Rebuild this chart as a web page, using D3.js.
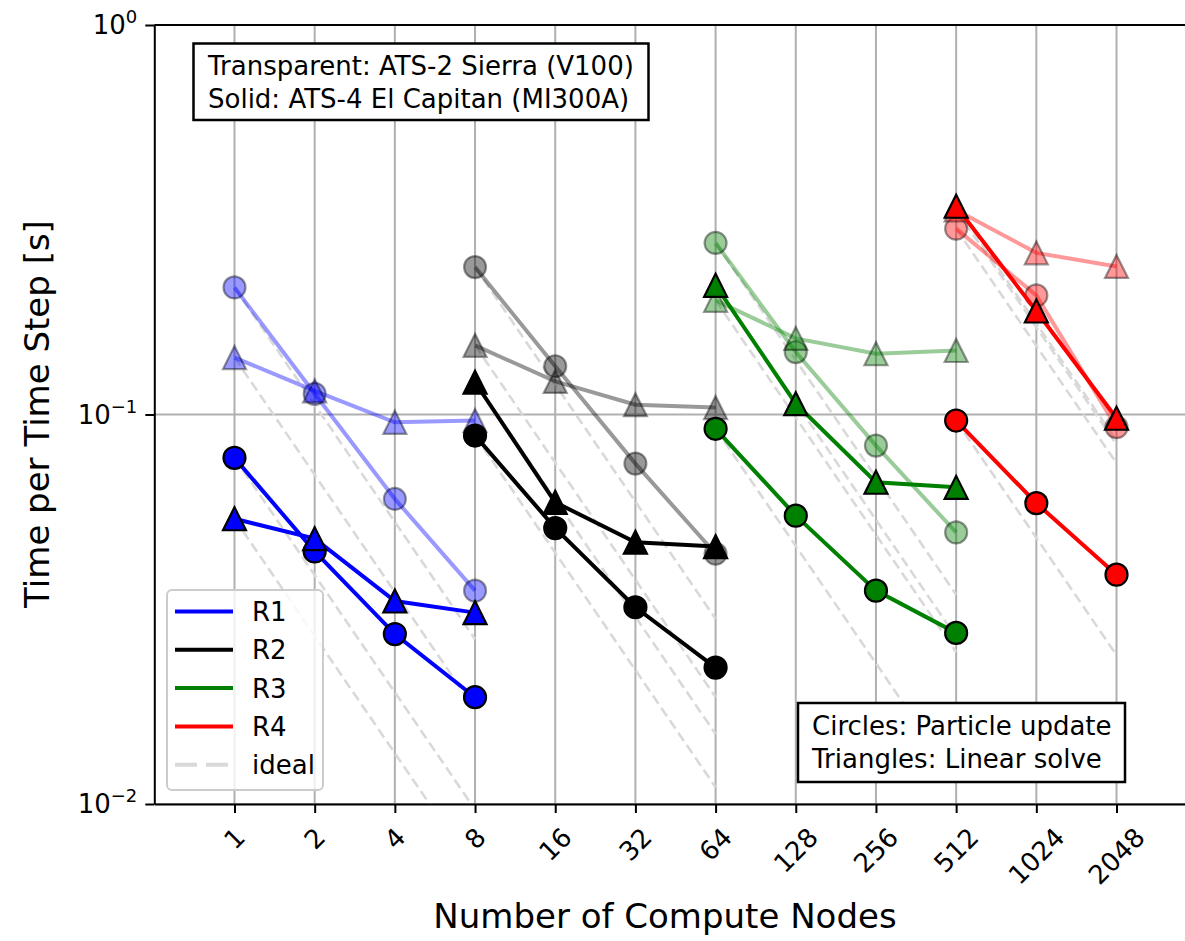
<!DOCTYPE html>
<html>
<head>
<meta charset="utf-8">
<script src="https://cdn.jsdelivr.net/npm/d3@7"></script>
<style>
  body { margin: 0; background: #fff; }
  svg { display: block; font-family: "DejaVu Sans", sans-serif; }
</style>
</head>
<body>
<div id="chart-area"></div>
<script>
// tick values
var nodeTicks = [1, 2, 4, 8, 16, 32, 64, 128, 256, 512, 1024, 2048];
var yTicks = [0.01, 0.1, 1];
var yTickExp = ["\u22122", "\u22121", "0"];

// node counts per problem size
var r1Nodes = [1, 2, 4, 8];
var r2Nodes = [8, 16, 32, 64];
var r3Nodes = [64, 128, 256, 512];
var r4Nodes = [512, 1024, 2048];

// ATS-2 Sierra (transparent)
var r1SierraParticle = [0.212, 0.113, 0.0607, 0.0353];
var r1SierraSolve    = [0.140, 0.115, 0.0955, 0.0965];
var r2SierraParticle = [0.239, 0.133, 0.0748, 0.0439];
var r2SierraSolve    = [0.1505, 0.1216, 0.106, 0.1042];
var r3SierraParticle = [0.2757, 0.1446, 0.0832, 0.0498];
var r3SierraSolve    = [0.1964, 0.1568, 0.1432, 0.146];
var r4SierraParticle = [0.300, 0.2022, 0.0928];
var r4SierraSolve    = [0.335, 0.26, 0.24];

// ATS-4 El Capitan (solid)
var r1ElCapParticle = [0.0774, 0.0445, 0.0273, 0.0188];
var r1ElCapSolve    = [0.054, 0.048, 0.0332, 0.031];
var r2ElCapParticle = [0.0883, 0.0511, 0.032, 0.0224];
var r2ElCapSolve    = [0.121, 0.0595, 0.047, 0.0458];
var r3ElCapParticle = [0.0919, 0.055, 0.0353, 0.0275];
var r3ElCapSolve    = [0.2146, 0.1066, 0.067, 0.065];
var r4ElCapParticle = [0.0965, 0.0592, 0.0388];
var r4ElCapSolve    = [0.3425, 0.1844, 0.0978];

var regionNames = ["R1", "R2", "R3", "R4"];
var regionColors = ["#0000ff", "#000000", "#008000", "#ff0000"];
var regionNodes = [r1Nodes, r2Nodes, r3Nodes, r4Nodes];
var sierra = [
  [r1SierraParticle, r1SierraSolve], [r2SierraParticle, r2SierraSolve],
  [r3SierraParticle, r3SierraSolve], [r4SierraParticle, r4SierraSolve]];
var elCap = [
  [r1ElCapParticle, r1ElCapSolve], [r2ElCapParticle, r2ElCapSolve],
  [r3ElCapParticle, r3ElCapSolve], [r4ElCapParticle, r4ElCapSolve]];

// build series list: transparent first, solid on top
var series = [];
[sierra, elCap].forEach(function(machine, m) {
  machine.forEach(function(pair, i) {
    pair.forEach(function(vals, k) {
      series.push({
        region: i,
        alpha: m == 0 ? 0.4 : 1,
        shape: k == 0 ? "circle" : "triangle",
        points: regionNodes[i].map(function(n, j) { return { n: n, t: vals[j] }; })
      });
    });
  });
});

var width = 1185, height = 941;
var top0 = 25, bottom0 = 804, left0 = 154.3, right0 = 1196.7;

var svg = d3.select("#chart-area").append("svg")
  .attr("width", width)
  .attr("height", height);

var x = d3.scaleLog().base(2)
  .domain([0.5, 4096])
  .range([left0, right0]);

var y = d3.scaleLog()
  .domain([0.01, 1])
  .range([bottom0, top0]);

svg.append("clipPath").attr("id", "plot-clip")
  .append("rect")
    .attr("x", left0).attr("y", top0)
    .attr("width", right0 - left0).attr("height", bottom0 - top0);

// grid
var grid = svg.append("g");
grid.selectAll(".vgrid").data(nodeTicks).enter().append("line")
  .attr("x1", function(d) { return x(d); })
  .attr("x2", function(d) { return x(d); })
  .attr("y1", top0).attr("y2", bottom0)
  .attr("stroke", "#b0b0b0").attr("stroke-width", 2);
grid.selectAll(".hgrid").data(yTicks).enter().append("line")
  .attr("x1", left0).attr("x2", right0)
  .attr("y1", function(d) { return y(d); })
  .attr("y2", function(d) { return y(d); })
  .attr("stroke", "#b0b0b0").attr("stroke-width", 2);

var plot = svg.append("g").attr("clip-path", "url(#plot-clip)");

// ideal scaling lines (t ~ 1/N from first point)
var line = d3.line()
  .x(function(d) { return x(d.n); })
  .y(function(d) { return y(d.t); });

series.forEach(function(s) {
  var p0 = s.points[0], pN = s.points[s.points.length - 1];
  plot.append("path")
    .attr("d", line([p0, { n: pN.n, t: p0.t * p0.n / pN.n }]))
    .attr("fill", "none")
    .attr("stroke", "#d9d9d9")
    .attr("stroke-width", 2.6)
    .attr("stroke-dasharray", "10,5");
});

var triangle = "M0,-11.5L11.5,11.5L-11.5,11.5Z";

series.forEach(function(s) {
  var c = regionColors[s.region];
  var g = plot.append("g");
  g.append("path")
    .attr("d", line(s.points))
    .attr("fill", "none")
    .attr("stroke", c)
    .attr("stroke-opacity", s.alpha)
    .attr("stroke-width", 4);
  var marks;
  if (s.shape == "circle") {
    marks = g.selectAll("circle").data(s.points).enter().append("circle")
      .attr("cx", function(d) { return x(d.n); })
      .attr("cy", function(d) { return y(d.t); })
      .attr("r", 11);
  } else {
    marks = g.selectAll(".tri").data(s.points).enter().append("path")
      .attr("d", triangle)
      .attr("transform", function(d) { return "translate(" + x(d.n) + "," + y(d.t) + ")"; });
  }
  marks.attr("fill", c)
    .attr("fill-opacity", s.alpha)
    .attr("stroke", "#000")
    .attr("stroke-opacity", s.alpha)
    .attr("stroke-width", 2.2);
});

// axes
function minorTicks(lo, hi) {
  var out = [];
  for (var k = -3; k <= 4; k++) {
    for (var m = 2; m <= 9; m++) {
      var v = m * Math.pow(10, k);
      if (v > lo && v < hi) out.push(v);
    }
  }
  return out;
}

var xAxisGroup = svg.append("g").attr("transform", "translate(0," + bottom0 + ")");
xAxisGroup.call(d3.axisBottom(x).tickValues(minorTicks(0.5, 4096)).tickSize(5.5).tickSizeOuter(0).tickFormat(""));
xAxisGroup.call(d3.axisBottom(x).tickValues(nodeTicks).tickSize(9).tickSizeOuter(0).tickFormat(""));

var yAxisGroup = svg.append("g").attr("transform", "translate(" + left0 + ",0)");
yAxisGroup.call(d3.axisLeft(y).tickValues(minorTicks(0.01, 1)).tickSize(5.5).tickSizeOuter(0).tickFormat(""));
yAxisGroup.call(d3.axisLeft(y).tickValues(yTicks).tickSize(9).tickSizeOuter(0).tickFormat(""));

svg.selectAll(".domain").attr("stroke", "#000").attr("stroke-width", 2);
svg.selectAll(".tick line").attr("stroke", "#000").attr("stroke-width", 2);

svg.append("line")
  .attr("x1", left0).attr("x2", right0)
  .attr("y1", top0).attr("y2", top0)
  .attr("stroke", "#000").attr("stroke-width", 2);

// x tick labels, rotated 45 degrees
nodeTicks.forEach(function(n) {
  var t = svg.append("text")
    .attr("font-size", 26)
    .attr("text-anchor", "middle")
    .attr("dy", "0.35em")
    .text(n);
  var L = t.node().getComputedTextLength();
  var H = (L + 26 * 1.164) / Math.SQRT2;
  var cy = bottom0 + 9 + 9 + H / 2;
  t.attr("transform", "translate(" + x(n) + "," + cy + ") rotate(-45)");
});

// y tick labels with exponents
yTicks.forEach(function(v, i) {
  var t = svg.append("text")
    .attr("x", left0 - 9 - 8)
    .attr("y", y(v) + 9)
    .attr("text-anchor", "end")
    .attr("font-size", 26);
  t.append("tspan").text("10");
  t.append("tspan").attr("dy", -11).attr("font-size", 18).text(yTickExp[i]);
});

// axis labels
svg.append("text")
  .attr("x", 665)
  .attr("y", 928)
  .attr("text-anchor", "middle")
  .attr("font-size", 34)
  .text("Number of Compute Nodes");

svg.append("text")
  .attr("transform", "translate(49," + 414 + ") rotate(-90)")
  .attr("text-anchor", "middle")
  .attr("font-size", 34)
  .text("Time per Time Step [s]");

// annotation boxes
function textBox(x0, y0, w, h, lines, tx, ty) {
  svg.append("rect")
    .attr("x", x0).attr("y", y0).attr("width", w).attr("height", h)
    .attr("fill", "#fff").attr("stroke", "#000").attr("stroke-width", 2.5);
  lines.forEach(function(s, i) {
    svg.append("text")
      .attr("x", tx).attr("y", ty + i * 33)
      .attr("font-size", 26)
      .text(s);
  });
}
textBox(193.5, 43.5, 455, 76.5,
  ["Transparent: ATS-2 Sierra (V100)", "Solid: ATS-4 El Capitan (MI300A)"], 208, 75);
textBox(798, 703, 327, 79,
  ["Circles: Particle update", "Triangles: Linear solve"], 812, 735);

// legend
var legend = svg.append("g");
legend.append("rect")
  .attr("x", 167).attr("y", 590).attr("width", 156).attr("height", 200)
  .attr("rx", 5)
  .attr("fill", "#fff").attr("fill-opacity", 0.8)
  .attr("stroke", "#cccccc").attr("stroke-width", 2);

var legendItems = regionNames.concat(["ideal"]);
legendItems.forEach(function(name, i) {
  var ly = 611.5 + i * 38.3;
  var isIdeal = i == regionNames.length;
  legend.append("line")
    .attr("x1", 175).attr("x2", 233)
    .attr("y1", ly).attr("y2", ly)
    .attr("stroke", isIdeal ? "#d9d9d9" : regionColors[i])
    .attr("stroke-width", 4)
    .attr("stroke-dasharray", isIdeal ? "22,9" : null);
  legend.append("text")
    .attr("x", 252).attr("y", ly + 9.5)
    .attr("font-size", 26)
    .text(name);
});
</script>
</body>
</html>
